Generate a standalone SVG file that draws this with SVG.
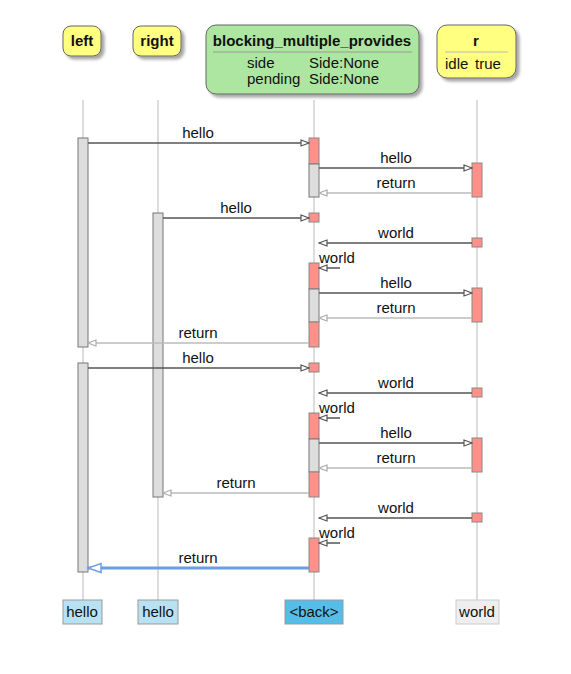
<svg xmlns="http://www.w3.org/2000/svg" width="571" height="674" viewBox="0 0 571 674">
<defs>
<marker id="ah" markerWidth="10" markerHeight="8" refX="9" refY="4" orient="auto" markerUnits="userSpaceOnUse"><path d="M1,1 L9,4 L1,7 Z" fill="#fff" stroke="#555" stroke-width="1.2"/></marker>
<marker id="ahr" markerWidth="10" markerHeight="8" refX="9" refY="4" orient="auto" markerUnits="userSpaceOnUse"><path d="M1,1 L9,4 L1,7 Z" fill="#fff" stroke="#aaa" stroke-width="1.2"/></marker>
<marker id="ahb" markerWidth="16" markerHeight="12" refX="14" refY="6" orient="auto" markerUnits="userSpaceOnUse"><path d="M1,1.5 L14,6 L1,10.5 Z" fill="#fff" stroke="#6a9ee0" stroke-width="1.5"/></marker>
<filter id="sh" x="-20%" y="-20%" width="150%" height="150%"><feDropShadow dx="3" dy="3" stdDeviation="1.5" flood-color="#000" flood-opacity="0.35"/></filter>
</defs>
<style>
text{font-family:"Liberation Sans",Arial,sans-serif;font-size:15px;fill:#111}
.b{font-weight:bold}
.life{stroke:#bbb;stroke-width:1}
.ya{fill:#ffff80;stroke:#666;stroke-width:1}
.g{fill:#ddd;stroke:#777;stroke-width:1}
.r{fill:#ff9189;stroke:#888;stroke-width:1}
.m{stroke:#555;stroke-width:1.5;fill:none}
.ret{stroke:#bbb;stroke-width:1.5;fill:none}
</style>
<rect width="571" height="674" fill="#fff"/>
<g id="lifelines">
<line class="life" x1="83" y1="100" x2="83" y2="600"/>
<line class="life" x1="158" y1="100" x2="158" y2="600"/>
<line class="life" x1="314" y1="100" x2="314" y2="600"/>
<line class="life" x1="477" y1="100" x2="477" y2="600"/>
</g>
<g id="node-left"><rect class="ya" x="63" y="26" width="38" height="30" rx="8" filter="url(#sh)"/><text class="b" x="82" y="46" text-anchor="middle">left</text></g>
<g id="node-right"><rect class="ya" x="133" y="26" width="48" height="30" rx="8" filter="url(#sh)"/><text class="b" x="157" y="46" text-anchor="middle">right</text></g>
<g id="node-bmp"><rect x="206" y="25" width="213" height="69" rx="10" fill="#ade6a0" stroke="#666" filter="url(#sh)"/><text class="b" x="312" y="46" text-anchor="middle">blocking_multiple_provides</text><line x1="213" y1="52" x2="412" y2="52" stroke="#999"/><text x="247" y="68">side</text><text x="309" y="68">Side:None</text><text x="247" y="84">pending</text><text x="309" y="84">Side:None</text></g>
<g id="node-r"><rect class="ya" x="437" y="25" width="79" height="53" rx="10" filter="url(#sh)"/><text class="b" x="476" y="46" text-anchor="middle">r</text><line x1="445" y1="52" x2="508" y2="52" stroke="#bbb"/><text x="445" y="69">idle</text><text x="475" y="69">true</text></g>
<g id="activations">
<rect class="g" x="78" y="138" width="10" height="209"/>
<rect class="g" x="78" y="363" width="10" height="209"/>
<rect class="g" x="153" y="213" width="10" height="284"/>
<rect class="r" x="309" y="138" width="10" height="26"/>
<rect class="g" x="309" y="164" width="10" height="33"/>
<rect class="r" x="309" y="213" width="10" height="9"/>
<rect class="r" x="309" y="263" width="10" height="26"/>
<rect class="g" x="309" y="289" width="10" height="33"/>
<rect class="r" x="309" y="322" width="10" height="25"/>
<rect class="r" x="309" y="363" width="10" height="9"/>
<rect class="r" x="309" y="413" width="10" height="26"/>
<rect class="g" x="309" y="439" width="10" height="33"/>
<rect class="r" x="309" y="472" width="10" height="25"/>
<rect class="r" x="309" y="538" width="10" height="34"/>
<rect class="r" x="472" y="163" width="10" height="34"/>
<rect class="r" x="472" y="238" width="10" height="9"/>
<rect class="r" x="472" y="288" width="10" height="34"/>
<rect class="r" x="472" y="388" width="10" height="9"/>
<rect class="r" x="472" y="438" width="10" height="34"/>
<rect class="r" x="472" y="513" width="10" height="9"/>
</g>
<g id="connectors">
<line class="m" x1="88" y1="143" x2="309" y2="143" marker-end="url(#ah)"/><text x="198" y="138" text-anchor="middle">hello</text>
<line class="m" x1="319" y1="168" x2="472" y2="168" marker-end="url(#ah)"/><text x="396" y="163" text-anchor="middle">hello</text>
<line class="ret" x1="472" y1="193" x2="319" y2="193" marker-end="url(#ahr)"/><text x="396" y="188" text-anchor="middle">return</text>
<line class="m" x1="163" y1="218" x2="309" y2="218" marker-end="url(#ah)"/><text x="236" y="213" text-anchor="middle">hello</text>
<line class="m" x1="472" y1="243" x2="319" y2="243" marker-end="url(#ah)"/><text x="396" y="238" text-anchor="middle">world</text>
<line class="m" x1="340" y1="268" x2="319" y2="268" marker-end="url(#ah)"/><text x="319" y="263">world</text>
<line class="m" x1="319" y1="293" x2="472" y2="293" marker-end="url(#ah)"/><text x="396" y="288" text-anchor="middle">hello</text>
<line class="ret" x1="472" y1="318" x2="319" y2="318" marker-end="url(#ahr)"/><text x="396" y="313" text-anchor="middle">return</text>
<line class="ret" x1="309" y1="343" x2="88" y2="343" marker-end="url(#ahr)"/><text x="198" y="338" text-anchor="middle">return</text>
<line class="m" x1="88" y1="368" x2="309" y2="368" marker-end="url(#ah)"/><text x="198" y="363" text-anchor="middle">hello</text>
<line class="m" x1="472" y1="393" x2="319" y2="393" marker-end="url(#ah)"/><text x="396" y="388" text-anchor="middle">world</text>
<line class="m" x1="340" y1="418" x2="319" y2="418" marker-end="url(#ah)"/><text x="319" y="413">world</text>
<line class="m" x1="319" y1="443" x2="472" y2="443" marker-end="url(#ah)"/><text x="396" y="438" text-anchor="middle">hello</text>
<line class="ret" x1="472" y1="468" x2="319" y2="468" marker-end="url(#ahr)"/><text x="396" y="463" text-anchor="middle">return</text>
<line class="ret" x1="309" y1="493" x2="163" y2="493" marker-end="url(#ahr)"/><text x="236" y="488" text-anchor="middle">return</text>
<line class="m" x1="472" y1="518" x2="319" y2="518" marker-end="url(#ah)"/><text x="396" y="513" text-anchor="middle">world</text>
<line class="m" x1="340" y1="543" x2="319" y2="543" marker-end="url(#ah)"/><text x="319" y="538">world</text>
<line x1="309" y1="568" x2="88" y2="568" stroke="#6a9ee0" stroke-width="3" marker-end="url(#ahb)"/><text x="198" y="563" text-anchor="middle">return</text>
</g>
<g id="foot-left"><rect x="63" y="600" width="39" height="24" fill="#b8e2f2" stroke="#999"/><text x="82" y="617" text-anchor="middle">hello</text></g>
<g id="foot-right"><rect x="138" y="600" width="40" height="24" fill="#b8e2f2" stroke="#999"/><text x="158" y="617" text-anchor="middle">hello</text></g>
<g id="foot-bmp"><rect x="285" y="600" width="58" height="24" fill="#56bde9" stroke="#999"/><text x="314" y="617" text-anchor="middle">&lt;back&gt;</text></g>
<g id="foot-r"><rect x="456" y="600" width="43" height="24" fill="#eee" stroke="#ccc"/><text x="477" y="617" text-anchor="middle">world</text></g>
</svg>
